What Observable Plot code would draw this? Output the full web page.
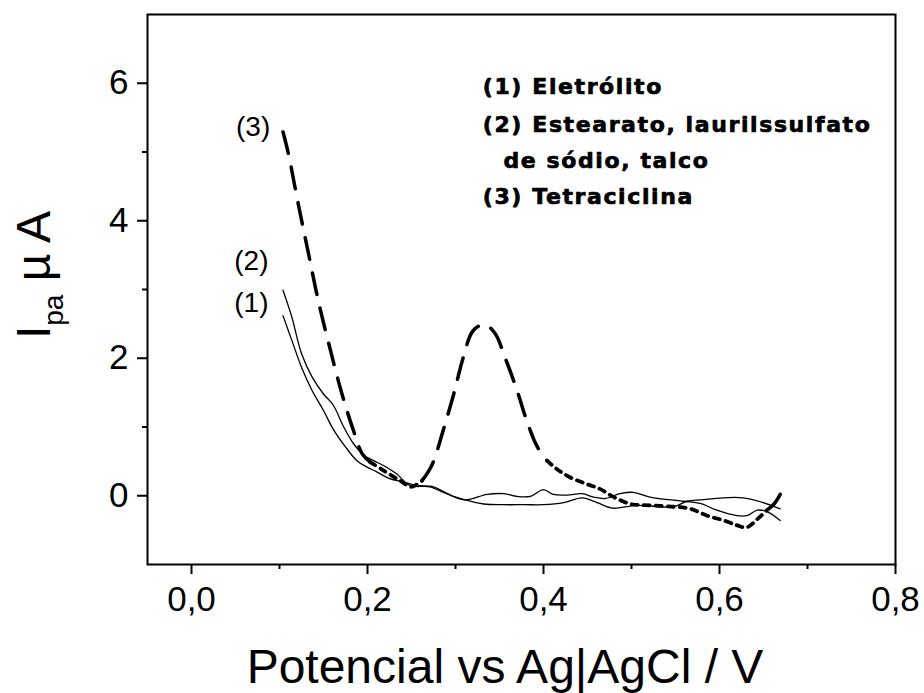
<!DOCTYPE html>
<html><head><meta charset="utf-8">
<script src="https://cdn.jsdelivr.net/npm/d3@7"></script>
<script src="https://cdn.jsdelivr.net/npm/@observablehq/plot@0.6"></script>
<style>body{margin:0;background:#fff} #chart{width:924px;height:693px}</style>
</head><body><div id="chart"></div>
<script>
// (1) Eletrólito
const curve1X = [0.104,0.114,0.125,0.137,0.150,0.161,0.175,0.188,0.199,0.210,0.225,0.241,0.256,0.275,0.294,0.311,0.332,0.355,0.378,0.400,0.423,0.444,0.461,0.478,0.506,0.548,0.563,0.578,0.627,0.669];
const curve1Y = [2.62,2.26,1.87,1.53,1.24,0.97,0.71,0.51,0.42,0.35,0.25,0.20,0.15,0.13,0.01,-0.06,-0.12,-0.13,-0.13,-0.13,-0.10,-0.03,-0.10,-0.18,-0.14,-0.16,-0.08,-0.06,-0.03,-0.19];
// (2) Estearato, laurilssulfato de sódio, talco
const curve2X = [0.104,0.114,0.125,0.137,0.150,0.161,0.173,0.184,0.196,0.207,0.218,0.233,0.248,0.271,0.290,0.311,0.336,0.355,0.370,0.385,0.400,0.411,0.427,0.444,0.457,0.470,0.487,0.502,0.521,0.559,0.578,0.597,0.620,0.631,0.643,0.654,0.669];
const curve2Y = [2.99,2.60,2.07,1.73,1.48,1.32,1.00,0.76,0.59,0.51,0.44,0.32,0.15,0.13,0.03,-0.06,0.02,0.03,-0.01,-0.01,0.09,0.02,0.01,0.03,-0.02,-0.04,0.03,0.05,-0.02,-0.08,-0.11,-0.21,-0.29,-0.29,-0.21,-0.23,-0.36];
// (3) Tetraciclina
const curve3X = [0.104,0.110,0.122,0.133,0.144,0.158,0.171,0.184,0.194,0.203,0.218,0.237,0.250,0.262,0.273,0.286,0.298,0.309,0.320,0.333,0.345,0.356,0.370,0.381,0.393,0.404,0.415,0.430,0.449,0.464,0.480,0.499,0.521,0.548,0.567,0.586,0.605,0.620,0.631,0.643,0.654,0.662,0.669];
const curve3Y = [5.29,4.98,4.20,3.52,2.84,2.11,1.48,0.95,0.61,0.49,0.37,0.22,0.13,0.22,0.44,0.95,1.48,2.02,2.40,2.49,2.36,2.02,1.53,1.09,0.71,0.51,0.39,0.27,0.17,0.10,-0.02,-0.12,-0.14,-0.16,-0.19,-0.29,-0.36,-0.43,-0.46,-0.34,-0.21,-0.12,0.02];

const xMajor = [0, 0.2, 0.4, 0.6, 0.8];
const xMinor = [0.1, 0.3, 0.5, 0.7];
const yMajor = [0, 2, 4, 6];
const yMinor = [1, 3, 5];
const legendLines = ["(1) Eletrólito", "(2) Estearato, laurilssulfato", "de sódio, talco", "(3) Tetraciclina"];
const curveLabels = ["(1)", "(2)", "(3)"];
const xTitle = "Potencial vs Ag|AgCl / V";

const rows = (xs, ys) => xs.map((x, i) => ({x, y: ys[i]}));
const rows1 = rows(curve1X, curve1Y);
const rows2 = rows(curve2X, curve2Y);
const rows3 = rows(curve3X, curve3Y);

// split curve 3 into runs of long dashes (steep parts) and short dots (flat parts)
const dashRanges = [[0.10, 0.200], [0.265, 0.40], [0.655, 0.67]];
const isDash = x => dashRanges.some(([a, b]) => x >= a && x <= b);
const runs = [];
for (let i = 0; i < rows3.length - 1; i++) {
  const st = isDash((rows3[i].x + rows3[i + 1].x) / 2) ? "dash" : "dot";
  const last = runs[runs.length - 1];
  if (last && last.st === st) last.pts.push(rows3[i + 1]);
  else runs.push({st, pts: [rows3[i], rows3[i + 1]]});
}
const seg3 = runs.flatMap((r, k) => r.pts.map(p => ({...p, z: k, st: r.st})));

const fmt = d => d.toFixed(1).replace(".", ",");
const legendFont = "'DejaVu Sans', 'Liberation Sans', sans-serif";
const legendStyle = {textAnchor: "start", lineAnchor: "bottom", fontSize: 22, fontWeight: "bold", fontFamily: legendFont, fill: "#000", stroke: "#000", strokeWidth: 0.7};

const plot = Plot.plot({
  width: 924, height: 693,
  marginLeft: 147, marginRight: 29, marginTop: 14, marginBottom: 129,
  x: {domain: [-0.05, 0.8]},
  y: {domain: [-1, 7]},
  style: {fontFamily: "'Liberation Sans', Arial, sans-serif", fontSize: "35px", color: "#000", background: "#fff", overflow: "visible"},
  marks: [
    Plot.axisX(xMajor, {tickSize: 10, tickPadding: 12, tickFormat: fmt, strokeWidth: 2, label: null, fontSize: 35}),
    Plot.axisX(xMinor, {tickSize: 5, tickFormat: () => "", strokeWidth: 2, label: null}),
    Plot.axisY(yMajor, {tickSize: 10, tickPadding: 9, tickFormat: d => String(d), strokeWidth: 2, label: null, fontSize: 35}),
    Plot.axisY(yMinor, {tickSize: 5, tickFormat: () => "", strokeWidth: 2, label: null}),
    Plot.frame({stroke: "#000", strokeWidth: 2}),
    Plot.line(rows1, {x: "x", y: "y", stroke: "#000", strokeWidth: 1.3, curve: "catmull-rom"}),
    Plot.line(rows2, {x: "x", y: "y", stroke: "#000", strokeWidth: 1.3, curve: "catmull-rom"}),
    Plot.line(seg3.filter(d => d.st === "dash"), {x: "x", y: "y", z: "z", stroke: "#000", strokeWidth: 3.5, strokeDasharray: "22,14", curve: "catmull-rom"}),
    Plot.line(seg3.filter(d => d.st === "dot"), {x: "x", y: "y", z: "z", stroke: "#000", strokeWidth: 3.8, strokeDasharray: "6,6", curve: "catmull-rom"}),
    // curve labels
    Plot.text([curveLabels[2]], {x: 0.070, y: 5.24, text: d => d, lineAnchor: "bottom", fontSize: 28, fill: "#000"}),
    Plot.text([curveLabels[1]], {x: 0.068, y: 3.29, text: d => d, lineAnchor: "bottom", fontSize: 28, fill: "#000"}),
    Plot.text([curveLabels[0]], {x: 0.068, y: 2.67, text: d => d, lineAnchor: "bottom", fontSize: 28, fill: "#000"}),
    // legend text
    Plot.text([legendLines[0]], {x: 0.331, y: 5.837, text: d => d, ...legendStyle}),
    Plot.text([legendLines[1]], {x: 0.331, y: 5.293, text: d => d, ...legendStyle}),
    Plot.text([legendLines[2]], {x: 0.3545, y: 4.774, text: d => d, ...legendStyle}),
    Plot.text([legendLines[3]], {x: 0.331, y: 4.250, text: d => d, ...legendStyle})
  ]
});

const svg = d3.select(plot);
// slightly spaced legend lettering like the original
svg.selectAll("text").filter(function() { return legendLines.includes(this.textContent); })
  .attr("letter-spacing", "1.6px");

svg.append("text")
  .attr("x", 505).attr("y", 683)
  .attr("text-anchor", "middle")
  .attr("font-family", "'Liberation Sans', Arial, sans-serif")
  .attr("font-size", 48).attr("fill", "#000")
  .text(xTitle);

const yt = svg.append("text")
  .attr("transform", "translate(50,275) rotate(-90)")
  .attr("text-anchor", "middle")
  .attr("font-family", "'Liberation Sans', Arial, sans-serif")
  .attr("font-size", 48).attr("fill", "#000");
yt.append("tspan").text("I");
yt.append("tspan").attr("font-size", 28).attr("dy", 13).text("pa");
yt.append("tspan").attr("dy", -13).text(" µ A");

document.getElementById("chart").appendChild(plot);
</script>
</body></html>
